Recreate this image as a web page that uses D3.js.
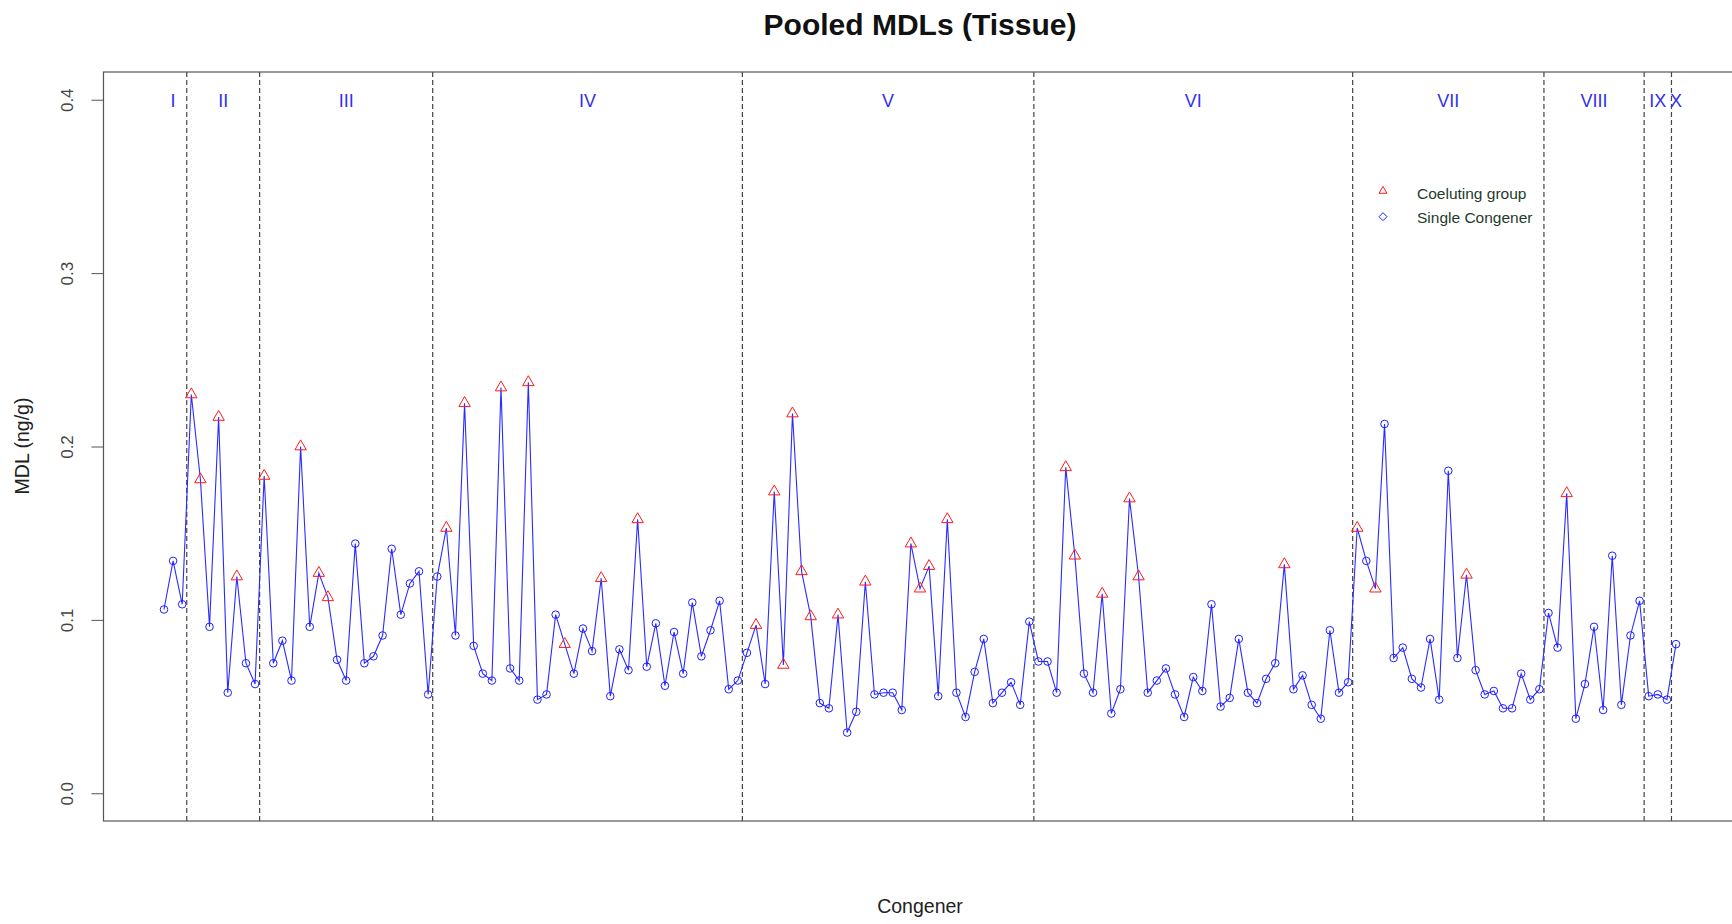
<!DOCTYPE html>
<html>
<head>
<meta charset="utf-8">
<script src="https://cdn.jsdelivr.net/npm/d3@7"></script>
<style>
  body { margin: 0; background: #fff; }
  text { font-family: "Liberation Sans", Arial, sans-serif; }
</style>
</head>
<body>
<script>
// homolog groups (roman numerals) and MDL values per group, in congener order
var homologs = ["I", "II", "III", "IV", "V", "VI", "VII", "VIII", "IX", "X"];

var mdlI = [0.106, 0.134, 0.109];
var mdlII = [0.230, 0.181, 0.096, 0.217, 0.058, 0.125, 0.075, 0.063];
var mdlIII = [0.183, 0.075, 0.088, 0.065, 0.200, 0.096, 0.127, 0.113, 0.077, 0.065,
              0.144, 0.075, 0.079, 0.091, 0.141, 0.103, 0.121, 0.128, 0.057];
var mdlIV = [0.125, 0.153, 0.091, 0.225, 0.085, 0.069, 0.065, 0.234, 0.072, 0.065,
             0.237, 0.054, 0.057, 0.103, 0.086, 0.069, 0.095, 0.082, 0.124, 0.056,
             0.083, 0.071, 0.158, 0.073, 0.098, 0.062, 0.093, 0.069, 0.110, 0.079,
             0.094, 0.111, 0.060, 0.065];
var mdlV = [0.081, 0.097, 0.063, 0.174, 0.074, 0.219, 0.128, 0.102, 0.052, 0.049,
            0.103, 0.035, 0.047, 0.122, 0.057, 0.058, 0.058, 0.048, 0.144, 0.118,
            0.131, 0.056, 0.158, 0.058, 0.044, 0.070, 0.089, 0.052, 0.058, 0.064,
            0.051, 0.099];
var mdlVI = [0.076, 0.076, 0.058, 0.188, 0.137, 0.069, 0.058, 0.115, 0.046, 0.060,
             0.170, 0.125, 0.058, 0.065, 0.072, 0.057, 0.044, 0.067, 0.059, 0.109,
             0.050, 0.055, 0.089, 0.058, 0.052, 0.066, 0.075, 0.132, 0.060, 0.068,
             0.051, 0.043, 0.094, 0.058, 0.064];
var mdlVII = [0.153, 0.134, 0.118, 0.213, 0.078, 0.084, 0.066, 0.061, 0.089, 0.054,
              0.186, 0.078, 0.126, 0.071, 0.057, 0.059, 0.049, 0.049, 0.069, 0.054,
              0.060];
var mdlVIII = [0.104, 0.084, 0.173, 0.043, 0.063, 0.096, 0.048, 0.137, 0.051, 0.091, 0.111];
var mdlIX = [0.056, 0.057, 0.054];
var mdlX = [0.086];

// positions (1-based) that are coeluting groups -> triangles
var coeluting = [4, 5, 7, 9, 12, 16, 18, 19, 32, 34, 38, 41, 45, 49, 53, 66, 68, 69,
                 70, 71, 72, 75, 78, 83, 84, 85, 87, 100, 101, 104, 107, 108, 124,
                 132, 134, 144, 155];

var yTicks = [0, 0.1, 0.2, 0.3, 0.4];

var groups = [mdlI, mdlII, mdlIII, mdlIV, mdlV, mdlVI, mdlVII, mdlVIII, mdlIX, mdlX];

// flatten + remember where each homolog group starts/ends
var dataset = [];
var bounds = [];
var start = 1;
groups.forEach(function(g, gi) {
	g.forEach(function(v, j) {
		dataset.push({ i: start + j, v: v, coel: coeluting.indexOf(start + j) >= 0 });
	});
	bounds.push({ name: homologs[gi], from: start, to: start + g.length - 1 });
	start += g.length;
});
var n = dataset.length;

var w = 1732;
var h = 924;
// note: "top" is taken by window.top, so use other names
var plotL = 103.5, plotR = 1736.5, plotT = 72, plotB = 821;

var svg = d3.select("body")
	.append("svg")
	.attr("width", w)
	.attr("height", h)
	.style("background", "#fff");

// R style 4% padding on the x range
var pad = 0.04 * (n - 1);
var xScale = d3.scaleLinear()
	.domain([1 - pad, n + pad])
	.range([plotL, plotR]);

var yScale = d3.scaleLinear()
	.domain([-0.016, 0.416])
	.range([plotB, plotT]);

// group separators
var breaks = bounds.slice(0, -1).map(function(b) { return b.to + 0.5; });
svg.selectAll("line.sep")
	.data(breaks)
	.enter()
	.append("line")
	.attr("class", "sep")
	.attr("x1", function(d) { return xScale(d); })
	.attr("x2", function(d) { return xScale(d); })
	.attr("y1", plotT)
	.attr("y2", plotB)
	.attr("stroke", "#444")
	.attr("stroke-width", 1.2)
	.attr("stroke-dasharray", "5,3");

// homolog labels at the middle of each group
svg.selectAll("text.hom")
	.data(bounds)
	.enter()
	.append("text")
	.attr("class", "hom")
	.attr("x", function(d) { return xScale((d.from + d.to) / 2); })
	.attr("y", yScale(0.4) + 1)
	.attr("dy", "0.35em")
	.attr("text-anchor", "middle")
	.attr("font-size", "18px")
	.attr("fill", "#3030f0")
	.text(function(d) { return d.name; });

// the line
var line = d3.line()
	.x(function(d) { return xScale(d.i); })
	.y(function(d) { return yScale(d.v); });

svg.append("path")
	.datum(dataset)
	.attr("d", line)
	.attr("fill", "none")
	.attr("stroke", "#2b2bff")
	.attr("stroke-width", 1.1);

// markers
var tri = "M0,-6.6L5.7,3.3L-5.7,3.3Z";
svg.selectAll("circle.pt")
	.data(dataset.filter(function(d) { return !d.coel; }))
	.enter()
	.append("circle")
	.attr("class", "pt")
	.attr("cx", function(d) { return xScale(d.i); })
	.attr("cy", function(d) { return yScale(d.v); })
	.attr("r", 3.8)
	.attr("fill", "none")
	.attr("stroke", "#1f1fff")
	.attr("stroke-width", 1);

svg.selectAll("path.tri")
	.data(dataset.filter(function(d) { return d.coel; }))
	.enter()
	.append("path")
	.attr("class", "tri")
	.attr("d", tri)
	.attr("transform", function(d) {
		return "translate(" + xScale(d.i) + "," + yScale(d.v) + ")";
	})
	.attr("fill", "none")
	.attr("stroke", "#ff1a1a")
	.attr("stroke-width", 1);

// box
svg.append("rect")
	.attr("x", plotL)
	.attr("y", plotT)
	.attr("width", plotR - plotL)
	.attr("height", plotB - plotT)
	.attr("fill", "none")
	.attr("stroke", "#555")
	.attr("stroke-width", 1.2);

// y axis, labels rotated like R
var yAxis = d3.axisLeft()
	.scale(yScale)
	.tickValues(yTicks)
	.tickSize(12)
	.tickFormat(d3.format(".1f"));

var gy = svg.append("g")
	.attr("transform", "translate(" + plotL + ",0)")
	.call(yAxis);
gy.select(".domain").remove();
gy.selectAll("line").attr("stroke", "#555");
gy.selectAll("text")
	.attr("x", 0)
	.attr("y", -36)
	.attr("dy", "0.35em")
	.attr("transform", "rotate(-90)")
	.attr("text-anchor", "middle")
	.attr("font-size", "17px")
	.attr("font-family", "Liberation Sans, Arial, sans-serif")
	.attr("fill", "#444");

// titles
svg.append("text")
	.attr("x", (plotL + plotR) / 2)
	.attr("y", 35)
	.attr("text-anchor", "middle")
	.attr("font-size", "30px")
	.attr("font-weight", "bold")
	.attr("fill", "#111")
	.text("Pooled MDLs (Tissue)");

svg.append("text")
	.attr("x", (plotL + plotR) / 2)
	.attr("y", 906)
	.attr("dy", "0.35em")
	.attr("text-anchor", "middle")
	.attr("font-size", "19.5px")
	.attr("fill", "#222")
	.text("Congener");

svg.append("text")
	.attr("transform", "translate(22,446) rotate(-90)")
	.attr("dy", "0.35em")
	.attr("text-anchor", "middle")
	.attr("font-size", "19.5px")
	.attr("fill", "#222")
	.text("MDL (ng/g)");

// legend
var legend = svg.append("g").attr("transform", "translate(1383,0)");
legend.append("path")
	.attr("d", "M0,-4.6L4,2.3L-4,2.3Z")
	.attr("transform", "translate(0,191)")
	.attr("fill", "none")
	.attr("stroke", "#ff1a1a");
legend.append("path")
	.attr("d", "M0,-4L4,0L0,4L-4,0Z")
	.attr("transform", "translate(0,216.7)")
	.attr("fill", "none")
	.attr("stroke", "#2222ff");
legend.selectAll("text")
	.data(["Coeluting group", "Single Congener"])
	.enter()
	.append("text")
	.attr("x", 34)
	.attr("y", function(d, i) { return 194 + i * 23.3; })
	.attr("dy", "0.35em")
	.attr("font-size", "15.5px")
	.attr("fill", "#1e3b2a")
	.text(function(d) { return d; });
</script>
</body>
</html>
